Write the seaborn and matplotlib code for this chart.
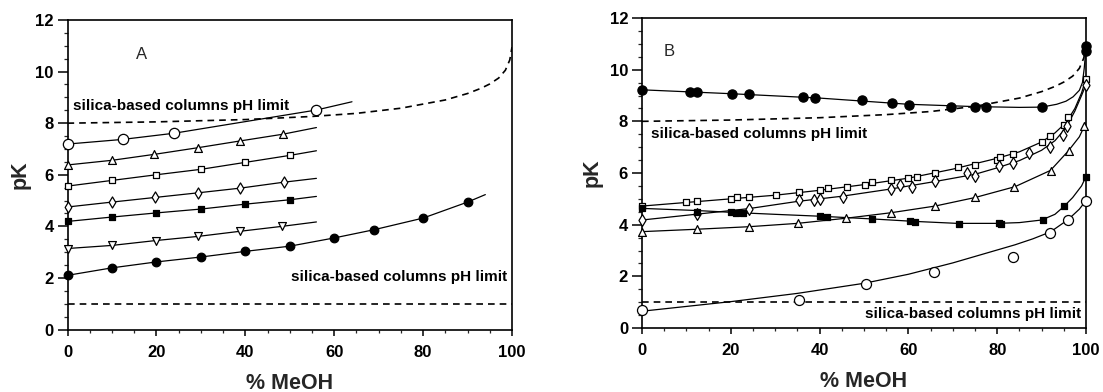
import matplotlib
matplotlib.use("Agg")
import matplotlib.pyplot as plt
from matplotlib.ticker import MultipleLocator
import seaborn as sns

sns.set_theme(style="ticks")
plt.rcParams["font.family"] = ["Liberation Sans", "DejaVu Sans"]

# ---- silica pH limit curves (shared by both panels) ----
lim_hi_x = [0, 20, 40, 55, 65, 75, 85, 90, 93, 95, 97, 98.5, 99.5, 100]
lim_hi_y = [8.0, 8.05, 8.14, 8.26, 8.38, 8.58, 8.9, 9.15, 9.35, 9.52, 9.75, 10.05, 10.45, 10.95]
lim_lo_x = [0, 100]
lim_lo_y = [1.0, 1.0]

# ---- Panel A: pK vs % MeOH ----
a_oc_x = [0, 12.4, 24, 56]
a_oc_y = [7.19, 7.37, 7.61, 8.51]
a_oc_end = (64, 8.83)

a_tu_x = [0, 10, 19.5, 29.4, 38.8, 48.4]
a_tu_y = [6.38, 6.56, 6.79, 7.05, 7.31, 7.57]
a_tu_end = (56, 7.83)

a_os_x = [0, 10, 20, 30, 40, 50]
a_os_y = [5.56, 5.78, 6.0, 6.21, 6.48, 6.75]
a_os_end = (56, 6.93)

a_dm_x = [0, 10, 19.7, 29.4, 38.8, 48.6]
a_dm_y = [4.75, 4.94, 5.12, 5.30, 5.48, 5.71]
a_dm_end = (56, 5.86)

a_fs_x = [0, 10, 20, 30, 40, 50]
a_fs_y = [4.19, 4.36, 4.52, 4.67, 4.86, 5.03]
a_fs_end = (56, 5.16)

a_td_x = [0, 10, 19.9, 29.4, 38.9, 48.3]
a_td_y = [3.14, 3.26, 3.45, 3.61, 3.81, 4.0]
a_td_end = (56, 4.17)

a_fc_x = [0, 10, 20, 30, 40, 50, 60, 69, 80, 90]
a_fc_y = [2.10, 2.39, 2.62, 2.81, 3.03, 3.23, 3.55, 3.87, 4.32, 4.94]
a_fc_end = (94, 5.23)

# ---- Panel B: measured points ----
b_fc_x = [0, 10.8, 12.3, 20.2, 24.2, 36.3, 39, 49.5, 56.2, 60.2, 69.7, 75, 77.5, 90.2, 100, 100]
b_fc_y = [9.21, 9.15, 9.15, 9.05, 9.05, 8.93, 8.92, 8.83, 8.70, 8.63, 8.57, 8.57, 8.54, 8.54, 10.9, 10.72]

b_os_x = [0, 9.9, 12.3, 20, 21.3, 24.2, 30.2, 35.3, 40.1, 41.9, 46.1, 50.2, 51.9, 56.1, 60,
          61.9, 66, 71.2, 75, 79.9, 80.6, 83.6, 90.2, 92, 95, 96, 100]
b_os_y = [4.72, 4.87, 4.92, 5.0, 5.06, 5.07, 5.15, 5.27, 5.36, 5.41, 5.47, 5.54, 5.64, 5.73, 5.8,
          5.86, 5.99, 6.22, 6.31, 6.5, 6.62, 6.74, 7.21, 7.43, 7.84, 8.15, 9.65]

b_dm_x = [0, 12.3, 24.2, 35.3, 38.8, 40.1, 45.3, 56.1, 58, 60.9, 66, 73.1, 75, 80.3, 83.6,
          87.2, 91.9, 94.8, 95.8, 100]
b_dm_y = [4.18, 4.40, 4.60, 4.95, 4.97, 4.99, 5.07, 5.37, 5.52, 5.45, 5.68, 6.0, 5.9, 6.29, 6.37,
          6.76, 7.02, 7.47, 7.82, 9.41]

b_tu_x = [0, 12.3, 24.2, 35.2, 46, 56.1, 66, 75, 83.7, 92.1, 96.1, 99.6]
b_tu_y = [3.73, 3.82, 3.92, 4.05, 4.27, 4.44, 4.72, 5.06, 5.46, 6.09, 6.86, 7.82]

b_fs_x = [0, 12.3, 20, 21.2, 22.7, 40.1, 41.7, 51.8, 60.4, 61.5, 71.3, 80.5, 80.9, 90.3, 95.1, 100]
b_fs_y = [4.63, 4.50, 4.49, 4.47, 4.45, 4.33, 4.31, 4.21, 4.16, 4.10, 4.03, 4.06, 4.04, 4.18, 4.71, 5.86]

b_oc_x = [0, 35.4, 50.5, 65.8, 83.6, 92, 96, 100]
b_oc_y = [0.70, 1.08, 1.70, 2.18, 2.74, 3.69, 4.18, 4.93]

# ---- Panel B: fitted curves ----
b_fc_fit_x = [0, 20, 40, 60, 75, 85, 90, 93.4, 95.5, 97.1, 98.5, 99.2, 99.6, 100]
b_fc_fit_y = [9.22, 9.07, 8.9, 8.66, 8.57, 8.54, 8.55, 8.66, 8.78, 8.95, 9.2, 9.5, 10.05, 10.85]

b_os_fit_x = [0, 10, 20, 30, 40, 50, 60, 70, 80, 85, 90, 93, 95.5, 97.5, 99, 100]
b_os_fit_y = [4.72, 4.86, 5.0, 5.14, 5.33, 5.55, 5.8, 6.15, 6.57, 6.82, 7.2, 7.55, 7.95, 8.5, 9.1, 9.65]

b_dm_fit_x = [0, 12, 24, 35, 45, 56, 66, 75, 80, 85, 90, 93, 95.5, 97.5, 99, 100]
b_dm_fit_y = [4.18, 4.4, 4.62, 4.9, 5.1, 5.38, 5.67, 5.95, 6.2, 6.48, 6.88, 7.25, 7.75, 8.4, 9.0, 9.42]

b_tu_fit_x = [0, 12, 24, 35, 46, 56, 66, 75, 84, 92, 96, 98.5, 100]
b_tu_fit_y = [3.73, 3.82, 3.92, 4.05, 4.25, 4.46, 4.72, 5.05, 5.47, 6.1, 6.85, 7.4, 7.95]

b_fs_fit_x = [0, 12, 21, 30, 41, 52, 61, 71, 80, 85, 90, 93, 95, 97, 99, 100]
b_fs_fit_y = [4.63, 4.55, 4.47, 4.4, 4.32, 4.22, 4.13, 4.05, 4.05, 4.08, 4.18, 4.4, 4.7, 5.05, 5.5, 5.86]

b_oc_fit_x = [0, 20, 35, 50, 60, 70, 78, 84, 88, 92, 96, 98.5, 100]
b_oc_fit_y = [0.65, 1.02, 1.34, 1.73, 2.08, 2.52, 2.92, 3.22, 3.45, 3.72, 4.2, 4.6, 4.93]

limit_label = "silica-based columns pH limit"

fig = plt.figure(figsize=(11.03, 3.92), dpi=100)
W, H = 1103, 392
axA = fig.add_axes([67.5 / W, (H - 329.5) / H, 444.5 / W, 309.5 / H])
axB = fig.add_axes([642 / W, (H - 328) / H, 444 / W, 310 / H])

LW = 0.9


def fit_line(ax, xs, ys):
    sns.lineplot(x=xs, y=ys, ax=ax, color="black", lw=LW, sort=False,
                 estimator=None, zorder=2)


def points(ax, xs, ys, marker, size, filled):
    sns.scatterplot(x=xs, y=ys, ax=ax, marker=marker, s=size,
                    color="black" if filled else "white",
                    edgecolor="black", linewidth=0.9, zorder=3, legend=False,
                    clip_on=False)


def limit_lines(ax):
    for xs, ys in ((lim_hi_x, lim_hi_y), (lim_lo_x, lim_lo_y)):
        sns.lineplot(x=xs, y=ys, ax=ax, color="black", lw=1.2, sort=False,
                     estimator=None, zorder=1, linestyle=(0, (4, 3)))


# Panel A
limit_lines(axA)
series_a = [
    (a_oc_x, a_oc_y, a_oc_end, "o", 55, False),
    (a_tu_x, a_tu_y, a_tu_end, "^", 32, False),
    (a_os_x, a_os_y, a_os_end, "s", 17, False),
    (a_dm_x, a_dm_y, a_dm_end, "d", 32, False),
    (a_fs_x, a_fs_y, a_fs_end, "s", 17, True),
    (a_td_x, a_td_y, a_td_end, "v", 32, False),
    (a_fc_x, a_fc_y, a_fc_end, "o", 38, True),
]
for xs, ys, end, mk, sz, filled in series_a:
    fit_line(axA, xs + [end[0]], ys + [end[1]])
    points(axA, xs, ys, mk, sz, filled)

# Panel B
limit_lines(axB)
series_b = [
    (b_fc_fit_x, b_fc_fit_y, b_fc_x, b_fc_y, "o", 44, True),
    (b_os_fit_x, b_os_fit_y, b_os_x, b_os_y, "s", 20, False),
    (b_dm_fit_x, b_dm_fit_y, b_dm_x, b_dm_y, "d", 36, False),
    (b_tu_fit_x, b_tu_fit_y, b_tu_x, b_tu_y, "^", 32, False),
    (b_fs_fit_x, b_fs_fit_y, b_fs_x, b_fs_y, "s", 17, True),
    (b_oc_fit_x, b_oc_fit_y, b_oc_x, b_oc_y, "o", 52, False),
]
for fx, fy, xs, ys, mk, sz, filled in series_b:
    fit_line(axB, fx, fy)
    points(axB, xs, ys, mk, sz, filled)

txt_kw = dict(fontsize=11, fontweight="bold", color="black")
axA.text(1.2, 8.5, limit_label, ha="left", va="baseline", **txt_kw)
axA.text(99, 1.88, limit_label, ha="right", va="baseline", **txt_kw)
axB.text(1.95, 7.37, limit_label, ha="left", va="baseline", **txt_kw)
axB.text(99, 0.40, limit_label, ha="right", va="baseline", **txt_kw)
axA.text(16.7, 10.65, "A", ha="center", va="center", fontsize=12)
axB.text(6.1, 10.7, "B", ha="center", va="center", fontsize=12)

for ax, ylx in ((axA, -0.083), (axB, -0.088)):
    ax.set_xlim(0, 100)
    ax.set_ylim(0, 12)
    ax.xaxis.set_major_locator(MultipleLocator(20))
    ax.xaxis.set_minor_locator(MultipleLocator(5))
    ax.yaxis.set_major_locator(MultipleLocator(2))
    ax.yaxis.set_minor_locator(MultipleLocator(0.5))
    ax.tick_params(axis="x", which="major", direction="out", length=4, width=1.1,
                   pad=7, labelsize=12, colors="black")
    ax.tick_params(axis="x", which="minor", direction="out", length=2.5, width=0.9)
    ax.tick_params(axis="y", which="major", direction="out", length=7, width=1.1,
                   pad=3, labelsize=12, colors="black")
    ax.tick_params(axis="y", which="minor", direction="out", length=3, width=0.9)
    for lab in ax.get_xticklabels() + ax.get_yticklabels():
        lab.set_fontweight("bold")
    for sp in ax.spines.values():
        sp.set_visible(True)
        sp.set_color("black")
        sp.set_linewidth(1.2)
    ax.set_facecolor("white")
    ax.set_xlabel("% MeOH", fontsize=15.5, fontweight="bold")
    ax.set_ylabel("pK", fontsize=15.5, fontweight="bold")
    ax.xaxis.set_label_coords(0.5, -0.14)
    ax.yaxis.set_label_coords(ylx, 0.5)

fig.savefig("out.png", dpi=100, facecolor="white")
